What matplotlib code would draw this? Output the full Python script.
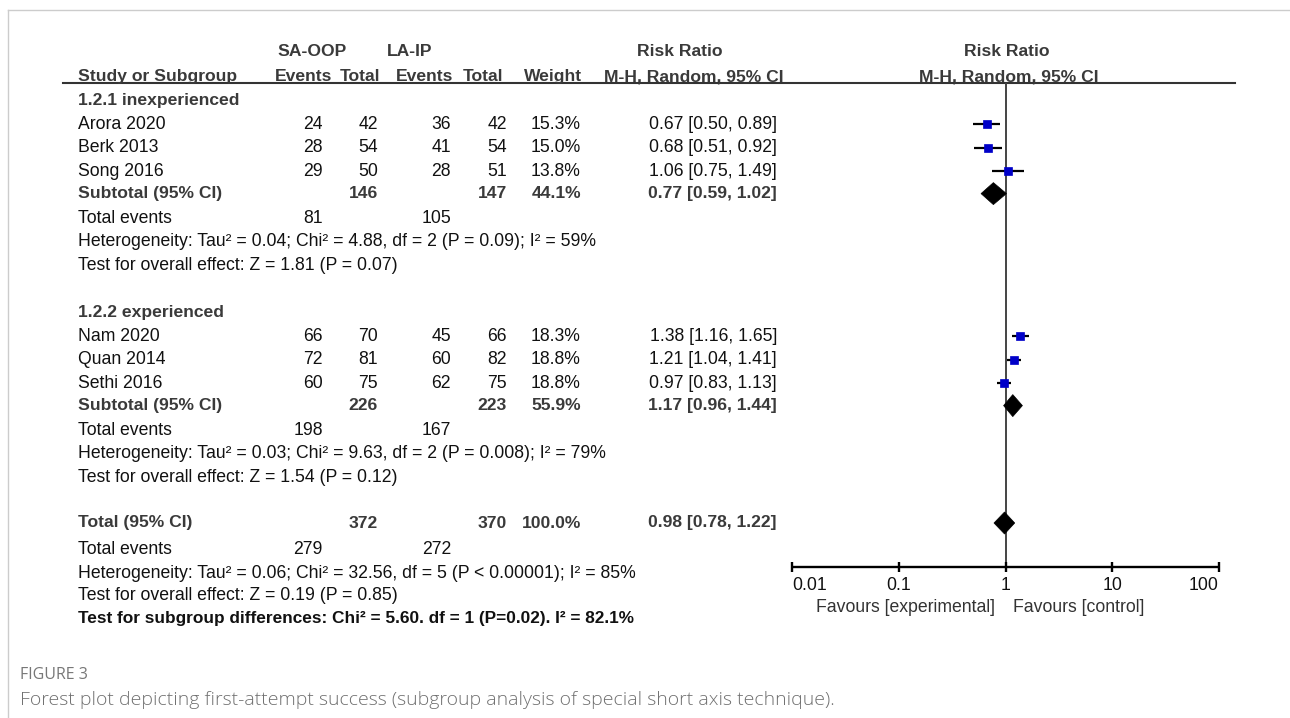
import matplotlib
matplotlib.use("Agg")
import matplotlib.pyplot as plt
from matplotlib.patches import Polygon
import numpy as np

plt.rcParams['font.family'] = ['Liberation Sans', 'DejaVu Sans']

# ---------------- data ----------------
group_titles = ["1.2.1 inexperienced", "1.2.2 experienced"]
studies = [["Arora 2020", "Berk 2013", "Song 2016"],
           ["Nam 2020", "Quan 2014", "Sethi 2016"]]
exp_events = [[24, 28, 29], [66, 72, 60]]
exp_total = [[42, 54, 50], [70, 81, 75]]
ctl_events = [[36, 41, 28], [45, 60, 62]]
ctl_total = [[42, 54, 51], [66, 82, 75]]
weights = [[15.3, 15.0, 13.8], [18.3, 18.8, 18.8]]
rr = [[0.67, 0.68, 1.06], [1.38, 1.21, 0.97]]
rr_lo = [[0.50, 0.51, 0.75], [1.16, 1.04, 0.83]]
rr_hi = [[0.89, 0.92, 1.49], [1.65, 1.41, 1.13]]

sub_exp_total = [146, 226]
sub_ctl_total = [147, 223]
sub_weight = ["44.1%", "55.9%"]
sub_rr = [0.77, 1.17]
sub_lo = [0.59, 0.96]
sub_hi = [1.02, 1.44]
sub_exp_events = [81, 198]
sub_ctl_events = [105, 167]
sub_het = ["Heterogeneity: Tau² = 0.04; Chi² = 4.88, df = 2 (P = 0.09); I² = 59%",
           "Heterogeneity: Tau² = 0.03; Chi² = 9.63, df = 2 (P = 0.008); I² = 79%"]
sub_test = ["Test for overall effect: Z = 1.81 (P = 0.07)",
            "Test for overall effect: Z = 1.54 (P = 0.12)"]

tot_exp_total, tot_ctl_total, tot_weight = 372, 370, "100.0%"
tot_rr, tot_lo, tot_hi = 0.98, 0.78, 1.22
tot_exp_events, tot_ctl_events = 279, 272
tot_het = "Heterogeneity: Tau² = 0.06; Chi² = 32.56, df = 5 (P < 0.00001); I² = 85%"
tot_test = "Test for overall effect: Z = 0.19 (P = 0.85)"
sub_diff = "Test for subgroup differences: Chi² = 5.60. df = 1 (P=0.02). I² = 82.1%"

axis_ticks = [0.01, 0.1, 1, 10, 100]
axis_labels = ["0.01", "0.1", "1", "10", "100"]
favours_left = "Favours [experimental]"
favours_right = "Favours [control]"
caption_label = "FIGURE 3"
caption_text = "Forest plot depicting first-attempt success (subgroup analysis of special short axis technique)."

# ---------------- layout ----------------
W, H = 1290, 718
fig = plt.figure(figsize=(W / 100, H / 100), dpi=100)
ax = fig.add_axes([0, 0, 1, 1])
ax.set_xlim(0, W)
ax.set_ylim(H, 0)
ax.axis('off')

PX0, PX1 = 792, 1219      # plot x extent (0.01 .. 100)
PY0, PY1 = 83, 567        # plot y extent
fa = fig.add_axes([PX0 / W, 1 - PY1 / H, (PX1 - PX0) / W, (PY1 - PY0) / H])
fa.set_xscale('log')
fa.set_xlim(0.01, 100)
fa.set_ylim(PY1, PY0)
fa.patch.set_alpha(0)
for s in ['top', 'left', 'right', 'bottom']:
    fa.spines[s].set_visible(False)
fa.set_xticks([])
fa.set_yticks([])
fa.minorticks_off()

FS = 12.7
FSB = 12.6
BOLD_C = '#3a3a3a'
REG_C = '#111111'

X_LABEL = 78
X_EE, X_ET, X_CE, X_CT, X_W, X_CI = 323, 378, 451, 507, 581, 777


def txt(x, y, s, ha='left', bold=False, color=None, size=None, **kw):
    ax.text(x, y, s, ha=ha, va='center',
            fontsize=size if size else (FSB if bold else FS),
            fontweight='bold' if bold else 'normal',
            color=color if color else (BOLD_C if bold else REG_C), **kw)


# frame
ax.plot([8, W], [10, 10], color='#cccccc', lw=1.0)
ax.plot([8, 8], [10, H], color='#cccccc', lw=1.0)

# headers
HY1, HY2 = 52, 76.5
txt(312, HY1, "SA-OOP", ha='center', bold=True)
txt(410, HY1, "LA-IP", ha='center', bold=True)
txt(680, HY1, "Risk Ratio", ha='center', bold=True)
txt(1007, HY1, "Risk Ratio", ha='center', bold=True)
txt(X_LABEL, HY2, "Study or Subgroup", bold=True)
txt(332, HY2, "Events", ha='right', bold=True)
txt(380, HY2, "Total", ha='right', bold=True)
txt(453, HY2, "Events", ha='right', bold=True)
txt(503, HY2, "Total", ha='right', bold=True)
txt(582, HY2, "Weight", ha='right', bold=True)
txt(694, HY2, "M-H, Random, 95% CI", ha='center', bold=True)
txt(1009, HY2, "M-H, Random, 95% CI", ha='center', bold=True)
ax.plot([63, 1235], [83, 83], color='#333333', lw=1.5)

STEP = 23.3
group_start = [100, 312]
blue = '#0000c8'

for g in range(2):
    y = group_start[g]
    txt(X_LABEL, y, group_titles[g], bold=True)
    for i in range(3):
        y += 24.5 if i == 0 else STEP
        txt(X_LABEL, y, studies[g][i])
        txt(X_EE, y, str(exp_events[g][i]), ha='right')
        txt(X_ET, y, str(exp_total[g][i]), ha='right')
        txt(X_CE, y, str(ctl_events[g][i]), ha='right')
        txt(X_CT, y, str(ctl_total[g][i]), ha='right')
        txt(X_W, y, f"{weights[g][i]:.1f}%", ha='right')
        txt(X_CI, y, f"{rr[g][i]:.2f} [{rr_lo[g][i]:.2f}, {rr_hi[g][i]:.2f}]", ha='right')
        fa.hlines(y, rr_lo[g][i], rr_hi[g][i], color='black', lw=1.6, zorder=2)
        side_px = 2.0 * np.sqrt(weights[g][i])
        fa.plot([rr[g][i]], [y], marker='s', ms=side_px * 0.72, color=blue,
                mec=blue, mew=0.5, linestyle='none', zorder=3)
    y += 22.5
    txt(X_LABEL, y, "Subtotal (95% CI)", bold=True)
    txt(X_ET, y, str(sub_exp_total[g]), ha='right', bold=True)
    txt(X_CT, y, str(sub_ctl_total[g]), ha='right', bold=True)
    txt(X_W, y, sub_weight[g], ha='right', bold=True)
    txt(X_CI, y, f"{sub_rr[g]:.2f} [{sub_lo[g]:.2f}, {sub_hi[g]:.2f}]", ha='right', bold=True)
    fa.add_patch(Polygon([(sub_lo[g], y), (sub_rr[g], y - 11), (sub_hi[g], y),
                          (sub_rr[g], y + 11)], closed=True, facecolor='black',
                         edgecolor='black', lw=0.5, zorder=3))
    y += 25
    txt(X_LABEL, y, "Total events")
    txt(X_EE, y, str(sub_exp_events[g]), ha='right')
    txt(X_CE, y, str(sub_ctl_events[g]), ha='right')
    y += STEP
    txt(X_LABEL, y, sub_het[g])
    y += STEP
    txt(X_LABEL, y, sub_test[g])

# overall
y = 523
txt(X_LABEL, y, "Total (95% CI)", bold=True)
txt(X_ET, y, str(tot_exp_total), ha='right', bold=True)
txt(X_CT, y, str(tot_ctl_total), ha='right', bold=True)
txt(X_W, y, tot_weight, ha='right', bold=True)
txt(X_CI, y, f"{tot_rr:.2f} [{tot_lo:.2f}, {tot_hi:.2f}]", ha='right', bold=True)
fa.add_patch(Polygon([(tot_lo, y), (tot_rr, y - 11), (tot_hi, y), (tot_rr, y + 11)],
                     closed=True, facecolor='black', edgecolor='black', lw=0.5, zorder=3))
y = 549
txt(X_LABEL, y, "Total events")
txt(X_EE, y, str(tot_exp_events), ha='right')
txt(X_CE, y, str(tot_ctl_events), ha='right')
txt(X_LABEL, 573, tot_het)
txt(X_LABEL, 596, tot_test)
txt(X_LABEL, 619, sub_diff, bold=True, color='#111111', size=12.4)

# null line
fa.axvline(1, color='#444444', lw=1.4, zorder=1)

# bottom axis
fa.hlines(PY1, 0.01, 100, color='black', lw=1.7, clip_on=False)
for t, lab in zip(axis_ticks, axis_labels):
    fa.vlines(t, PY1 - 5, PY1 + 5, color='black', lw=1.7, clip_on=False)
    ha = 'center'
    if t == axis_ticks[0]:
        ha = 'left'
    elif t == axis_ticks[-1]:
        ha = 'right'
    fa.text(t, 586, lab, ha=ha, va='center', fontsize=FS, color=REG_C, clip_on=False)
ax.text(995, 607, favours_left, ha='right', va='center', fontsize=FS, color='#333333')
ax.text(1013, 607, favours_right, ha='left', va='center', fontsize=FS, color='#333333')

# caption
ax.text(20, 675, caption_label, ha='left', va='center', fontsize=11.5,
        color='#777777', family=['Open Sans', 'DejaVu Sans'])
ax.text(20, 700, caption_text, ha='left', va='center', fontsize=14.0,
        color='#707070', family=['Open Sans', 'DejaVu Sans'], fontweight='light')

fig.savefig("out.png", dpi=100)
